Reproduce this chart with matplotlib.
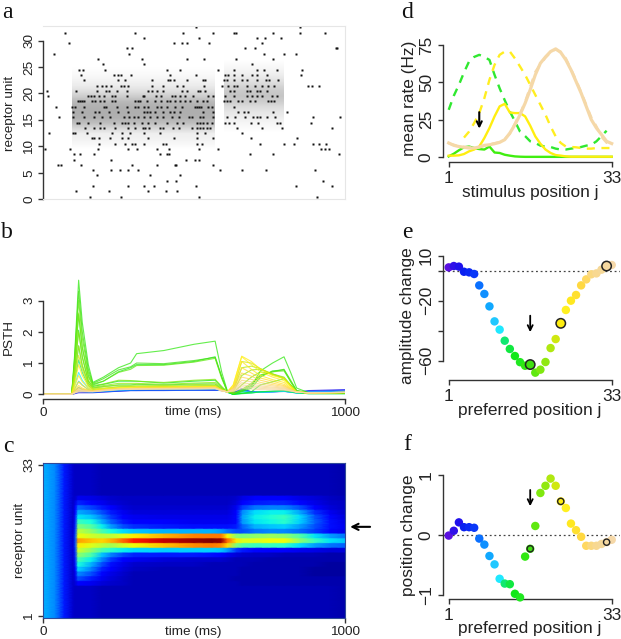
import numpy as np
import matplotlib
matplotlib.use("Agg")
import matplotlib.pyplot as plt

W, H = 621, 639
plt.rcParams['font.family'] = ['Liberation Sans', 'DejaVu Sans']

# ---------- panel a: spike times (ms) per receptor unit row ----------
spike_rows = {
32.5: [508, 851],
31.5: [74, 305, 462, 564, 634, 639, 762, 851, 934],
30.5: [334, 515, 709, 735, 788],
29.5: [85, 435, 461, 478, 549, 726],
28.5: [279, 295, 668, 701, 969, 975],
27.5: [35, 286, 732, 799, 839],
26.5: [181, 327, 476, 534, 639, 762],
25.5: [200, 333, 691],
24.5: [118, 132, 204, 409, 454, 578, 633, 709, 733, 774, 859],
23.5: [127, 236, 247, 259, 292, 421, 508, 603, 614, 633, 658, 693, 708, 741, 853],
22.5: [135, 248, 272, 361, 413, 421, 434, 478, 531, 537, 600, 609, 631, 658, 677, 708, 738, 749, 779],
21.5: [179, 195, 209, 226, 258, 269, 283, 361, 399, 443, 463, 534, 592, 611, 631, 644, 677, 702, 724, 744, 766, 879, 892, 914],
20.5: [13, 108, 179, 209, 218, 245, 278, 347, 361, 379, 396, 460, 476, 513, 520, 537, 620, 631, 677, 686, 708, 719, 741],
19.5: [17, 148, 159, 168, 184, 201, 228, 239, 278, 330, 335, 375, 390, 427, 438, 454, 471, 498, 548, 564, 603, 631, 675, 691, 708, 724, 757, 774],
18.5: [115, 121, 129, 137, 162, 173, 190, 203, 228, 239, 305, 313, 322, 344, 372, 391, 410, 419, 438, 454, 471, 487, 509, 531, 542, 600, 609, 620, 647, 658, 686, 702, 746, 754, 765],
17.5: [44, 97, 107, 137, 201, 209, 245, 278, 303, 316, 333, 349, 377, 391, 410, 438, 460, 504, 509, 517, 523, 548, 559, 634],
16.5: [99, 129, 173, 184, 220, 247, 283, 333, 344, 355, 372, 399, 421, 434, 454, 531, 564, 647, 664, 680, 763, 807],
15.5: [54, 99, 135, 168, 195, 223, 267, 286, 300, 316, 333, 355, 377, 396, 427, 449, 482, 493, 520, 531, 564, 609, 636, 669, 697, 708, 719, 741, 768, 893, 983],
14.5: [112, 120, 149, 190, 234, 261, 272, 283, 300, 327, 349, 372, 410, 443, 465, 509, 520, 531, 542, 559, 603, 617, 631, 688, 713, 774, 785, 886],
13.5: [140, 168, 190, 203, 239, 283, 305, 330, 338, 352, 388, 399, 432, 449, 493, 509, 520, 531, 542, 553, 644, 724, 790, 956],
12.5: [19, 99, 106, 146, 228, 261, 289, 333, 388, 509, 537, 658],
11.5: [162, 170, 184, 223, 261, 283, 349, 434, 509, 564, 688, 840],
10.5: [184, 239, 270, 294, 305, 333, 399, 407, 509, 525, 719, 798, 831, 895, 914, 936],
9.5: [8, 90, 182, 283, 311, 379, 416, 518, 581, 919, 935, 948],
8.5: [104, 121, 170, 386, 410, 416, 686, 763, 981],
7.5: [104, 225, 473, 504, 515],
6.5: [49, 60, 127, 294, 379, 438, 441, 562],
5.5: [165, 226, 256, 283, 314, 587, 658, 739, 901],
4.5: [179, 355, 454],
3.5: [412, 442, 926],
2.5: [165, 283, 335, 368, 507, 838, 956],
1.5: [110, 217, 347, 406, 445],
0.5: [157, 259, 518, 906],
}
# grey level per row of the two stimulus windows (rows bottom to top)
gray_first = [1.0, .97, .95, .93, .84, .74, .69, .68, .69, .72, .8, .87, .92, .95, .97, .99, 1.0]
gray_second = [1.0, .98, .96, .93, .9, .86, .8, .77, .79, .84, .89, .93, .96, .98, 1.0]

# ---------- unit colours (units 1..33) ----------
unit_colors = ['#5a10e0', '#3010e8', '#2010ec', '#0a20f0', '#0a28f4', '#0a38f8', '#0a70ff', '#1090ff', '#10a8ff',
               '#20c8ff', '#20e8ff', '#10e870', '#10e840', '#10e818', '#20e820', '#30e810', '#40e010', '#60e810',
               '#80e810', '#90e810', '#b0e810', '#d0e810', '#ffee10', '#fff020', '#ffe820', '#ffe030', '#ffd840',
               '#ffd860', '#fad880', '#f8d890', '#f5d898', '#f5d8a0', '#f5d8a8']

# ---------- panel b: PSTH ----------
psth_time = [0, 95, 105, 118, 130, 150, 165, 200, 250, 290, 310, 400, 500, 570, 592, 610, 630, 658, 690, 720, 760, 798, 820, 840, 880, 1000]
psth = {
3:  [0, 0, .02, .05, .05, .05, .05, .07, .1, .12, .12, .12, .13, .13, .12, .1, .05, .15, .08, .07, .08, .09, .08, .07, .12, .15],
6:  [0, 0, .03, .08, .07, .06, .06, .08, .1, .12, .12, .13, .13, .13, .12, .1, .04, .18, .08, .07, .08, .1, .08, .06, .1, .13],
8:  [0, 0, .05, .13, .1, .07, .07, .09, .12, .13, .14, .14, .14, .15, .12, .09, .02, .15, .07, .07, .09, .1, .07, .05, .08, .1],
9:  [0, 0, .1, .22, .15, .09, .08, .1, .13, .15, .15, .16, .17, .17, .13, .08, .01, .12, .06, .07, .09, .1, .07, .04, .07, .08],
10: [0, 0, .17, .42, .3, .15, .1, .12, .15, .16, .17, .18, .18, .19, .14, .08, 0, .1, .06, .07, .08, .1, .07, .04, .05, .06],
11: [0, 0, .3, .7, .45, .2, .12, .15, .18, .18, .2, .2, .22, .22, .13, .06, 0, .05, .05, .07, .08, .1, .07, .05, .03, .03],
12: [0, 0, .45, 1.1, .7, .28, .15, .18, .24, .25, .26, .25, .27, .28, .15, .07, 0, .03, .05, .08, .1, .12, .08, .05, .02, .02],
13: [0, 0, .6, 1.55, .9, .35, .2, .25, .3, .3, .32, .3, .33, .33, .17, .07, 0, .02, .04, .08, .1, .12, .08, .05, .02, .02],
14: [0, 0, .8, 2.05, 1.2, .42, .25, .32, .42, .42, .42, .36, .42, .45, .22, .08, 0, .03, .08, .3, .4, .5, .3, .08, .03, .03],
15: [0, 0, 1.0, 2.55, 1.5, .6, .3, .42, .72, .85, .95, .95, 1.05, 1.2, .55, .1, 0, .08, .2, .55, .75, .78, .4, .1, .05, .05],
16: [0, 0, 1.3, 3.65, 2.3, .95, .38, .55, .85, 1.0, 1.3, 1.4, 1.6, 1.7, .7, .12, .02, .1, .25, .75, 1.0, 1.2, .7, .2, .05, .05],
17: [0, 0, 1.2, 3.3, 2.0, .8, .35, .5, .78, .88, 1.0, .98, 1.08, 1.18, .55, .1, .02, .12, .3, .6, .72, .8, .45, .12, .05, .05],
18: [0, 0, 1.1, 3.0, 1.8, .7, .33, .42, .7, .8, .92, .93, 1.03, 1.15, .5, .1, .02, .15, .35, .62, .72, .75, .42, .12, .05, .05],
19: [0, 0, 1.0, 2.6, 1.5, .55, .28, .33, .45, .44, .42, .38, .45, .48, .25, .08, .05, .3, .55, .72, .65, .55, .3, .08, .05, .05],
20: [0, 0, .8, 2.0, 1.2, .45, .22, .28, .35, .35, .35, .32, .36, .38, .2, .08, .08, .6, .78, .8, .65, .5, .28, .08, .05, .05],
21: [0, 0, .62, 1.55, .95, .36, .19, .24, .29, .29, .3, .28, .31, .33, .17, .07, .1, .85, .9, .82, .65, .52, .28, .08, .04, .05],
22: [0, 0, .5, 1.25, .8, .3, .17, .2, .24, .25, .26, .25, .27, .28, .15, .07, .15, 1.05, 1.0, .82, .62, .52, .28, .08, .04, .05],
23: [0, 0, .35, .95, .6, .25, .14, .18, .22, .23, .24, .24, .25, .26, .14, .07, .3, 1.22, 1.05, .8, .6, .5, .26, .07, .04, .06],
24: [0, 0, .25, .6, .4, .2, .12, .16, .2, .21, .22, .22, .24, .25, .13, .07, .3, 1.2, .95, .72, .55, .44, .24, .07, .05, .06],
25: [0, 0, .18, .4, .28, .16, .11, .15, .19, .2, .21, .21, .23, .24, .13, .08, .25, 1.05, .8, .6, .47, .38, .2, .07, .05, .06],
26: [0, 0, .13, .28, .2, .13, .1, .14, .18, .19, .2, .2, .22, .23, .12, .08, .22, .85, .68, .52, .42, .32, .18, .07, .05, .06],
27: [0, 0, .1, .22, .17, .12, .1, .14, .18, .19, .2, .2, .21, .22, .12, .08, .2, .68, .58, .45, .36, .28, .16, .07, .05, .06],
28: [0, 0, .08, .18, .15, .11, .1, .14, .17, .18, .19, .19, .2, .21, .12, .08, .18, .55, .48, .38, .31, .25, .15, .07, .05, .06],
29: [0, 0, .07, .15, .13, .1, .09, .13, .17, .18, .18, .19, .2, .2, .12, .08, .16, .45, .4, .32, .27, .22, .14, .07, .05, .06],
30: [0, 0, .06, .13, .12, .1, .09, .13, .16, .17, .18, .18, .19, .2, .12, .08, .15, .37, .33, .27, .23, .2, .13, .07, .05, .06],
31: [0, 0, .05, .11, .11, .09, .09, .12, .16, .17, .17, .18, .18, .19, .11, .08, .13, .3, .27, .23, .2, .18, .12, .07, .05, .06],
32: [0, 0, .05, .1, .1, .09, .09, .12, .15, .16, .17, .17, .18, .18, .11, .08, .12, .24, .22, .19, .17, .15, .11, .07, .05, .06],
33: [0, 0, .04, .08, .08, .08, .08, .11, .15, .16, .16, .17, .17, .18, .11, .08, .1, .18, .17, .15, .14, .13, .1, .07, .05, .06],
}

# ---------- panel c: heat map ----------
heat_time = [0, 40, 70, 100, 107, 116, 160, 195, 225, 265, 300, 400, 500, 560, 590, 610, 640, 660, 700, 750, 800, 850, 900, 950, 1000]
heat_left = [.30, .26, .15]       # first three columns, same in every row
heat_quiet = [.07, .06, .06, .06, .05, .05, .05, .05, .05, .05, .05, .05, .05, .05, .05, .05, .05, .05, .05, .05, .05, .04]
heat_band = {
26: [.07, .07, .10, .09, .08, .07, .06, .06, .06, .06, .06, .06, .06, .07, .09, .11, .11, .11, .09, .08, .06, .05],
25: [.07, .09, .16, .13, .10, .08, .07, .06, .06, .06, .06, .06, .06, .08, .12, .15, .16, .16, .13, .09, .07, .06],
24: [.07, .11, .23, .19, .15, .11, .08, .07, .07, .07, .07, .07, .07, .10, .18, .24, .25, .25, .20, .12, .08, .06],
23: [.07, .13, .29, .26, .20, .15, .10, .08, .08, .08, .08, .08, .08, .12, .26, .34, .36, .36, .29, .17, .10, .07],
22: [.07, .15, .35, .32, .25, .18, .12, .10, .09, .09, .09, .09, .09, .13, .28, .36, .39, .42, .34, .21, .13, .08],
21: [.07, .16, .42, .38, .30, .22, .15, .12, .11, .10, .10, .10, .10, .13, .27, .35, .37, .40, .33, .22, .14, .09],
20: [.07, .17, .50, .45, .36, .28, .20, .17, .15, .14, .14, .14, .14, .15, .22, .30, .32, .33, .28, .20, .14, .10],
19: [.07, .18, .58, .52, .44, .38, .34, .32, .30, .30, .30, .28, .24, .20, .20, .24, .26, .26, .23, .18, .13, .09],
18: [.07, .20, .64, .60, .58, .58, .62, .66, .72, .77, .78, .78, .65, .52, .50, .52, .54, .52, .45, .35, .28, .24],
17: [.07, .20, .74, .70, .68, .72, .80, .88, .94, .98, 1.0, .98, .80, .66, .62, .62, .64, .64, .52, .42, .35, .32],
16: [.07, .20, .66, .62, .58, .55, .60, .64, .70, .76, .78, .76, .68, .50, .45, .42, .42, .40, .34, .28, .24, .22],
15: [.07, .18, .60, .52, .44, .40, .36, .34, .33, .33, .33, .32, .28, .18, .15, .13, .12, .11, .10, .09, .08, .08],
14: [.07, .17, .52, .44, .32, .25, .19, .16, .15, .15, .14, .13, .10, .08, .07, .06, .06, .05, .05, .05, .04, .04],
13: [.07, .16, .44, .36, .26, .18, .12, .10, .08, .07, .07, .07, .06, .05, .05, .05, .04, .04, .04, .04, .04, .04],
12: [.07, .15, .38, .30, .20, .14, .09, .07, .06, .06, .05, .05, .05, .05, .05, .04, .04, .04, .04, .04, .03, .03],
11: [.07, .12, .33, .25, .16, .11, .08, .06, .05, .05, .05, .05, .05, .05, .04, .04, .04, .04, .04, .03, .03, .03],
10: [.07, .10, .26, .20, .13, .09, .07, .05, .05, .05, .05, .05, .05, .05, .04, .04, .04, .04, .04, .03, .03, .03],
9:  [.07, .09, .20, .15, .10, .08, .06, .05, .05, .05, .05, .05, .05, .04, .04, .04, .04, .04, .04, .04, .04, .04],
8:  [.07, .08, .12, .10, .08, .07, .06, .05, .05, .05, .05, .05, .05, .05, .04, .04, .04, .04, .04, .04, .04, .04],
}

# ---------- panel d: tuning curves ----------
positions = list(range(1, 34))
green_dash = [31.6, 41, 48.3, 56.6, 64, 67, 68.4, 67, 65, 55, 46, 38, 30.5, 24, 17, 14, 10.5, 9.4, 7.6, 7, 6.7, 5.6, 5, 5, 5.6, 6, 6.7, 7.6, 8.2, 10.5, 14, 17.6]
yellow_dash = [13, 17, 22.7, 29.4, 39.4, 51.7, 61.7, 68.4, 70.6, 70.6, 66, 60.6, 55, 48.3, 41.6, 35, 28.3, 20.5, 13.8, 9.4, 7, 6.7, 6.5, 6, 5.6, 5.6, 6, 6, 6, 6]
yellow_dash_pos = list(range(4, 34))
yellow_solid = [.9, .9, 1.1, 2, 3.8, 5, 7, 12.7, 19.4, 27.2, 33.9, 35.6, 29.8, 29.4, 29.4, 27.2, 21, 13.8, 8.9, 5, 2.7, 1.3, .9, .4, .2, .2, .2, .2, .2, .2, .2, .2, .2]
green_solid = [.4, 2.2, 4.5, 6.5, 7, 6, 5.3, 5, 7, 3, 2.7, 1.5, .9, .4, .2, .1, .1, .1, .1, .1, .1, .1, .1, .1, .1, .1, .1, .1, .1, .1, .1, .1, .1]
tan_solid = [9.4, 7.8, 7, 6.5, 6, 6, 6.7, 7.8, 8.2, 8.9, 9.8, 11.6, 16, 21.6, 28.3, 36, 45, 55, 62.8, 67, 70.6, 72.4, 70, 65, 58.4, 50.6, 42.8, 33.9, 25, 19.4, 15, 10.5, 9]
tan_dash = [9, 8.2, 7.2, 6.8, 6.4, 6.2, 6.5, 7.5, 8.5, 9.2, 10, 12, 15.5, 22.5, 29, 37, 47, 57, 62, 66.5, 70, 72, 70.5, 66, 59, 51.5, 43.5, 35, 26.5, 20.5, 13.5, 9.5, 10.5]

# ---------- panels e, f ----------
amplitude = [2.2, 3.1, 2.7, -.7, -1.1, -2.2, -9.8, -15.5, -23.8, -33.8, -39.3, -46.7, -52.2, -56.9, -61, -63.4, -62.6, -68, -66, -60.9, -51.6, -45.6, -35.1, -26.2, -20, -16.2, -9.8, -5.8, -2.4, -1.8, .7, 3.1, 3.8]
shift = [-.01, .07, .21, .13, .13, .12, -.06, -.16, -.35, -.49, -.73, -.81, -.82, -.98, -1.04, -.36, -.23, .15, .70, .82, .94, .82, .56, .45, .19, .08, -.03, -.18, -.18, -.18, -.15, -.12, -.08]
circled = [17, 23, 32]


def px_axes(l, t, r, b):
    return fig.add_axes([l / W, 1 - b / H, (r - l) / W, (b - t) / H])


def label_y(ax, l, r, t, b, text, xpx, ypx, size):
    ax.set_ylabel(text, fontsize=size, va='center', ha='center', color='#222222')
    ax.yaxis.set_label_coords((xpx - l) / (r - l), (b - ypx) / (b - t))


def label_x(ax, l, r, t, b, text, xpx, ypx, size):
    ax.set_xlabel(text, fontsize=size, va='center', ha='center', color='#222222')
    ax.xaxis.set_label_coords((xpx - l) / (r - l), (b - ypx) / (b - t))


def rstyle(ax, size, pad=3):
    for s in ('top', 'right'):
        ax.spines[s].set_visible(False)
    for s in ('left', 'bottom'):
        ax.spines[s].set_color('#333333')
        ax.spines[s].set_linewidth(1.0)
    ax.tick_params(length=3.6, width=1.0, color='#333333', labelsize=size, labelcolor='#222222', pad=pad)
    ax.tick_params(axis='y', labelrotation=90)
    for lab in ax.get_yticklabels():
        lab.set_va('center')


fig = plt.figure(figsize=(W / 100, H / 100), dpi=100)
fs = 9.7

# panel a
l, t, r, b = 43, 26, 345, 199.3
ax = px_axes(l, t, r, b)
ax.imshow(np.array(gray_first)[:, None], extent=[97, 570, 9, 26], origin='lower', aspect='auto',
          cmap='gray', vmin=0, vmax=1, interpolation='bilinear')
ax.imshow(np.array(gray_second)[:, None], extent=[600, 798, 12, 27], origin='lower', aspect='auto',
          cmap='gray', vmin=0, vmax=1, interpolation='bilinear')
for yrow, times in spike_rows.items():
    ax.plot(times, [yrow] * len(times), ls='none', marker='s', ms=1.7, mec='none', mfc='#111111', clip_on=False)
ax.set_xlim(0, 1000)
ax.set_ylim(0, 32.75)
ax.set_xticks([])
ax.set_yticks(range(0, 31, 5))
for s in ('top', 'right', 'bottom'):
    ax.spines[s].set_color('#e6e6e6')
    ax.spines[s].set_linewidth(0.8)
ax.tick_params(length=3.6, width=1.0, color='#333333', labelsize=fs, labelcolor='#222222', pad=2)
ax.tick_params(axis='y', labelrotation=90)
for lab in ax.get_yticklabels():
    lab.set_va('center')
ax.spines['left'].set_bounds(0, 30)
ax.spines['left'].set_color('#333333')
ax.spines['left'].set_linewidth(1.0)
label_y(ax, l, r, t, b, 'receptor unit', 10, 113, fs)

# panel b
l, t, r, b = 43, 278, 345, 399
ax = px_axes(l, t, r, b)
for unit, vals in psth.items():
    ax.plot(psth_time, vals, color=unit_colors[unit - 1], lw=0.8, alpha=0.75)
ax.set_xlim(0, 1000)
ax.set_ylim(-0.15, 3.72)
ax.set_xticks([0, 1000])
ax.set_yticks([0, 1, 2, 3])
rstyle(ax, fs, 2)
ax.spines['left'].set_bounds(0, 3)
label_y(ax, l, r, t, b, 'PSTH', 9, 337, fs)
label_x(ax, l, r, t, b, 'time (ms)', 193, 412, fs)

# panel c
l, t, r, b = 43, 462.7, 345, 618
ax = px_axes(l, t, r, b)
rows = np.arange(1, 34)
heat = np.array([heat_left + heat_band.get(int(u), heat_quiet) for u in rows])
yy = np.ravel([[u - 0.38, u + 0.38] for u in rows])
ax.pcolormesh(heat_time, yy, np.repeat(heat, 2, axis=0), cmap='jet', vmin=0, vmax=1, shading='gouraud')
ax.set_xlim(0, 1000)
ax.set_ylim(0.62, 33.38)
ax.set_xticks([0, 1000])
ax.set_yticks([1, 33])
rstyle(ax, fs, 2)
for s in ax.spines.values():
    s.set_visible(True)
    s.set_color('#304a9a')
    s.set_linewidth(0.8)
label_y(ax, l, r, t, b, 'receptor unit', 20, 540.7, fs)
label_x(ax, l, r, t, b, 'time (ms)', 193, 631.7, fs)
ax.annotate('', xy=(1.017, 0.587), xytext=(1.083, 0.587), xycoords='axes fraction', textcoords='axes fraction',
            arrowprops=dict(arrowstyle='->', lw=1.5, color='black', mutation_scale=11, shrinkA=0, shrinkB=0),
            annotation_clip=False)

# right column common x scale
rl, rr = 443, 620
xlim = (-0.12, 34.63)
fr = 12.4
dash = (3.4, 2.8)

# panel d
l, t, r, b = rl, 42, rr, 162
ax = px_axes(l, t, r, b)
ax.plot(positions[:32], green_dash, color='#30e830', lw=1.7, ls=(0, dash))
ax.plot(yellow_dash_pos, yellow_dash, color='#ffee20', lw=1.7, ls=(0, dash))
ax.plot(positions, green_solid, color='#40ee10', lw=1.7)
ax.plot(positions, yellow_solid, color='#ffee10', lw=1.7)
ax.plot(positions, tan_dash, color='#f5d8a8', lw=1.7, ls=(0, dash))
ax.plot(positions, tan_solid, color='#f5d8a8', lw=2.3)
ax.annotate('', xy=(7, 19), xytext=(7, 30),
            arrowprops=dict(arrowstyle='->', lw=1.5, color='black', mutation_scale=9, shrinkA=0, shrinkB=0))
ax.set_xlim(*xlim)
ax.set_ylim(-3.35, 77)
ax.set_xticks([1, 33])
ax.set_yticks([0, 25, 50, 75])
rstyle(ax, fr)
ax.spines['left'].set_bounds(0, 75)
ax.spines['bottom'].set_bounds(1, 33)
label_y(ax, l, r, t, b, 'mean rate (Hz)', 410, 98, fr)
label_x(ax, l, r, t, b, 'stimulus position j', 530, 192.7, fr)

# panel e
l, t, r, b = rl, 250, rr, 380
ax = px_axes(l, t, r, b)
ax.axhline(0, color='#444444', lw=0.9, ls=(0, (1.5, 2.2)))
ax.scatter(positions, amplitude, s=37, c=unit_colors, linewidths=0, clip_on=False, zorder=3)
ax.scatter([positions[i - 1] for i in circled], [amplitude[i - 1] for i in circled], s=46,
           c=[unit_colors[i - 1] for i in circled], edgecolors='#222222', linewidths=1.1, clip_on=False, zorder=4)
ax.annotate('', xy=(17, -41), xytext=(17, -30),
            arrowprops=dict(arrowstyle='->', lw=1.3, color='black', mutation_scale=9, shrinkA=0, shrinkB=0))
ax.set_xlim(*xlim)
ax.set_ylim(-72.9, 13.8)
ax.set_xticks([1, 33])
ax.set_yticks([10, 0, -20, -40, -60], ['10', '', '\u221220', '', '\u221260'])
rstyle(ax, fr)
ax.spines['left'].set_bounds(-60, 10)
ax.spines['bottom'].set_bounds(1, 33)
label_y(ax, l, r, t, b, 'amplitude change', 408, 316, fr)
label_x(ax, l, r, t, b, 'preferred position j', 530, 410.7, fr)

# panel f
l, t, r, b = rl, 470, rr, 599
ax = px_axes(l, t, r, b)
ax.axhline(0, color='#444444', lw=0.9, ls=(0, (1.5, 2.2)))
ax.scatter(positions, shift, s=37, c=unit_colors, linewidths=0, clip_on=False, zorder=3)
ax.scatter([positions[i - 1] for i in circled], [shift[i - 1] for i in circled], s=20,
           c=[unit_colors[i - 1] for i in circled], edgecolors='#222222', linewidths=1.0, clip_on=False, zorder=4)
ax.annotate('', xy=(17, .48), xytext=(17, .75),
            arrowprops=dict(arrowstyle='->', lw=1.3, color='black', mutation_scale=9, shrinkA=0, shrinkB=0))
ax.set_xlim(*xlim)
ax.set_ylim(-1.067, 1.083)
ax.set_xticks([1, 33])
ax.set_yticks([-1, 0, 1], ['\u22121', '0', '1'])
rstyle(ax, fr)
ax.spines['left'].set_bounds(-1, 1)
ax.spines['bottom'].set_bounds(1, 33)
label_y(ax, l, r, t, b, 'position change', 409, 535, fr)
label_x(ax, l, r, t, b, 'preferred position j', 530, 629, fr)

# panel letters
for letter, xp, yp in [('a', 7, 13), ('b', 7, 232), ('c', 8, 446), ('d', 407, 12), ('e', 407, 233), ('f', 407, 445)]:
    fig.text(xp / W, 1 - yp / H, letter, fontsize=17, family=['Liberation Serif'], ha='center', va='center', color='#111111')

fig.savefig('out.png', dpi=100)
